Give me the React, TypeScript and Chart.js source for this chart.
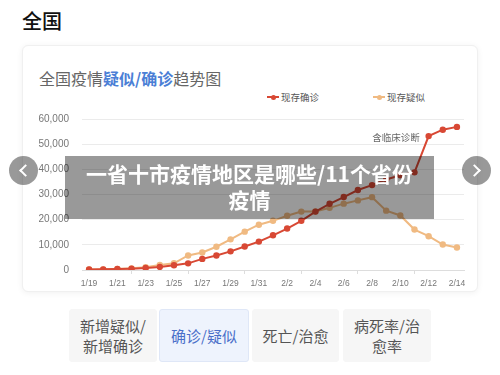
import React, { useEffect, useRef } from 'react';
import { Chart, registerables } from 'chart.js';

Chart.register(...registerables);

const dates = [
  '1/19', '1/20', '1/21', '1/22', '1/23', '1/24', '1/25', '1/26', '1/27',
  '1/28', '1/29', '1/30', '1/31', '2/1', '2/2', '2/3', '2/4', '2/5', '2/6',
  '2/7', '2/8', '2/9', '2/10', '2/11', '2/12', '2/13', '2/14',
];
const confirmed = [
  180, 260, 410, 530, 770, 1210, 1870, 2640, 4410, 5790, 7410, 9310, 11290,
  13780, 16470, 19560, 23210, 26300, 28990, 31770, 33740, 35980, 37630, 38800,
  53200, 55750, 56870,
];
const suspected = [
  200, 250, 400, 650, 1070, 1970, 2680, 5790, 6970, 9240, 12170, 15240, 17990,
  19540, 21560, 23210, 23260, 24700, 26360, 27660, 28940, 23590, 21680, 16070,
  13440, 10110, 8970,
];
const seriesNames = ['现存确诊', '现存疑似'];
const seriesColors = ['#d84834', '#f0ba82'];
const noteText = '含临床诊断';
const noteIndex = 24;
const pageTitle = '全国';
const chartTitleA = '全国疫情';
const chartTitleB = '疑似/确诊';
const chartTitleC = '趋势图';
const overlayLines = ['一省十市疫情地区是哪些/11个省份', '疫情'];
const tabs = [['新增疑似/', '新增确诊'], ['确诊/疑似'], ['死亡/治愈'], ['病死率/治', '愈率']];
const activeTab = 1;

const CJK = '"Noto Sans CJK SC", "Noto Sans", sans-serif';
const NUM = '"Liberation Sans", Arial, "Noto Sans CJK SC", sans-serif';

const notePlugin = {
  id: 'note',
  afterDatasetsDraw(chart: any) {
    const meta = chart.getDatasetMeta(0);
    const pt = meta.data[noteIndex];
    if (!pt) return;
    const ctx = chart.ctx;
    ctx.save();
    ctx.font = '9.5px ' + CJK;
    ctx.fillStyle = '#666';
    ctx.textAlign = 'right';
    ctx.textBaseline = 'middle';
    ctx.fillText(noteText, pt.x - 9, pt.y + 1);
    ctx.restore();
  },
};

function ChartCanvas() {
  const ref = useRef<HTMLCanvasElement | null>(null);
  useEffect(() => {
    if (!ref.current) return;
    const chart = new Chart(ref.current, {
      type: 'line',
      data: {
        labels: dates,
        datasets: [
          {
            label: seriesNames[0],
            data: confirmed,
            borderColor: seriesColors[0],
            backgroundColor: seriesColors[0],
            borderWidth: 2,
            pointRadius: 3.2,
            pointBorderWidth: 0,
            tension: 0,
          },
          {
            label: seriesNames[1],
            data: suspected,
            borderColor: seriesColors[1],
            backgroundColor: seriesColors[1],
            borderWidth: 2,
            pointRadius: 3.2,
            pointBorderWidth: 0,
            tension: 0,
          },
        ],
      },
      options: {
        responsive: false,
        animation: false,
        events: [],
        layout: { padding: { top: 17, right: 14, left: 0, bottom: 0 } },
        plugins: {
          legend: { display: false },
          tooltip: { enabled: false },
          title: { display: false },
        },
        scales: {
          x: {
            type: 'category',
            offset: true,
            afterFit(scale: any) {
              scale.height = 30;
            },
            grid: {
              display: true,
              drawOnChartArea: false,
              drawTicks: true,
              tickLength: 4,
              color: '#dddddd',
              offset: true,
            },
            border: { display: true, color: '#dddddd' },
            ticks: {
              autoSkip: true,
              maxTicksLimit: 14,
              maxRotation: 0,
              minRotation: 0,
              padding: 5,
              color: '#777',
              font: { family: NUM, size: 8.5 },
            },
          },
          y: {
            min: 0,
            max: 60000,
            afterFit(scale: any) {
              scale.width = 60;
            },
            grid: { color: '#ebebeb', drawTicks: false },
            border: { display: false },
            ticks: {
              stepSize: 10000,
              padding: 13,
              color: '#777',
              font: { family: NUM, size: 10 },
              callback: (v: any) => Number(v).toLocaleString('en-US'),
            },
          },
        },
      },
      plugins: [notePlugin],
    });
    return () => chart.destroy();
  }, []);
  return (
    <canvas
      ref={ref}
      width={456}
      height={200}
      style={{ position: 'absolute', left: 22, top: 100, width: 456, height: 200 }}
    />
  );
}

function LegendItem({ color, name, left }: { color: string; name: string; left: number }) {
  return (
    <div style={{ position: 'absolute', left, top: 90, height: 14, display: 'flex', alignItems: 'center' }}>
      <div style={{ position: 'relative', width: 12, height: 14, marginRight: 2 }}>
        <div style={{ position: 'absolute', left: 0, top: 6, width: 12, height: 2, background: color }} />
        <div style={{ position: 'absolute', left: 3.5, top: 4.5, width: 5, height: 5, borderRadius: 3, background: color }} />
      </div>
      <span style={{ fontFamily: CJK, fontSize: 9.5, color: '#555', lineHeight: '14px' }}>{name}</span>
    </div>
  );
}

function Arrow({ cx, dir }: { cx: number; dir: 'left' | 'right' }) {
  return (
    <div
      style={{
        position: 'absolute',
        left: cx - 14.5,
        top: 170 - 14.5,
        width: 29,
        height: 29,
        borderRadius: 15,
        background: 'rgba(0,0,0,0.4)',
        zIndex: 3,
      }}
    >
      <div
        style={{
          position: 'absolute',
          left: dir === 'left' ? 12 : 8,
          top: 10,
          width: 7,
          height: 7,
          borderLeft: '2px solid #fff',
          borderBottom: '2px solid #fff',
          transform: dir === 'left' ? 'rotate(45deg)' : 'rotate(-135deg)',
        }}
      />
    </div>
  );
}

export default function App() {
  const tabLefts = [69, 159, 252, 343];
  const tabWidths = [88, 90, 87, 88];
  return (
    <div
      style={{
        position: 'absolute',
        left: 0,
        top: 0,
        width: 500,
        height: 375,
        background: '#fff',
        overflow: 'hidden',
        fontFamily: CJK,
      }}
    >
      <div style={{ position: 'absolute', left: 22, top: 6, fontSize: 20, fontWeight: 500, color: '#111', lineHeight: '30px' }}>
        {pageTitle}
      </div>
      <div
        style={{
          position: 'absolute',
          left: 22,
          top: 45,
          width: 456,
          height: 247,
          borderRadius: 6,
          border: '1px solid #f0f0f0',
          boxSizing: 'border-box',
          boxShadow: '0 1px 6px rgba(0,0,0,0.06)',
          background: '#fff',
        }}
      />
      <div style={{ position: 'absolute', left: 39, top: 67, fontSize: 16, lineHeight: '22px', color: '#666', whiteSpace: 'nowrap' }}>
        {chartTitleA}
        <span style={{ color: '#4b7fd6', fontWeight: 700 }}>{chartTitleB}</span>
        {chartTitleC}
      </div>
      <LegendItem color={seriesColors[0]} name={seriesNames[0]} left={267} />
      <LegendItem color={seriesColors[1]} name={seriesNames[1]} left={373} />
      <ChartCanvas />
      <div
        style={{
          position: 'absolute',
          left: 65,
          top: 156,
          width: 369,
          height: 63,
          background: 'rgba(0,0,0,0.4)',
          zIndex: 2,
          color: '#fff',
          fontWeight: 700,
          fontSize: 21,
          lineHeight: '26px',
          textAlign: 'center',
          paddingTop: 4,
          boxSizing: 'border-box',
          whiteSpace: 'nowrap',
        }}
      >
        {overlayLines.map((l, i) => (
          <div key={i}>{l}</div>
        ))}
      </div>
      <Arrow cx={23.5} dir="left" />
      <Arrow cx={476.5} dir="right" />
      {tabs.map((lines, i) => (
        <div
          key={i}
          style={{
            position: 'absolute',
            left: tabLefts[i],
            top: 309,
            width: tabWidths[i],
            height: 53,
            borderRadius: 3,
            boxSizing: 'border-box',
            background: i === activeTab ? '#eef3fd' : '#f6f6f6',
            border: i === activeTab ? '1px solid #dfe7f7' : '1px solid #f6f6f6',
            color: i === activeTab ? '#4a6fc9' : '#555',
            fontSize: 15,
            lineHeight: '20px',
            display: 'flex',
            flexDirection: 'column',
            alignItems: 'center',
            justifyContent: 'center',
            textAlign: 'center',
          }}
        >
          {lines.map((l, j) => (
            <div key={j}>{l}</div>
          ))}
        </div>
      ))}
    </div>
  );
}
